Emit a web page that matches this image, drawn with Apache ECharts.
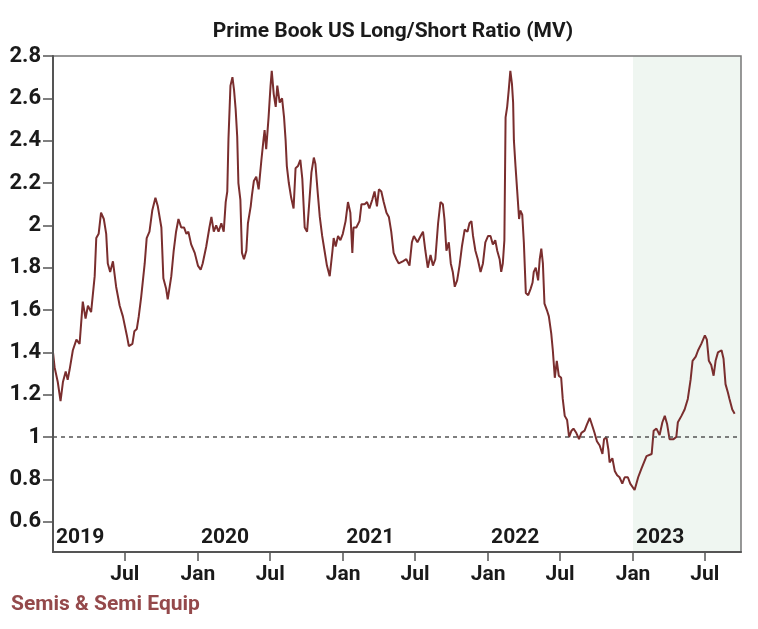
<!DOCTYPE html>
<html><head><meta charset="utf-8">
<script src="https://cdn.jsdelivr.net/npm/echarts@6/dist/echarts.min.js"></script>
<style>html,body{margin:0;padding:0;background:#fff}#c{width:758px;height:629px}</style>
</head><body><div id="c"></div>
<script>
const chartTitle = 'Prime Book US Long/Short Ratio (MV)';
const footnote = 'Semis & Semi Equip';
const yTicks = [0.6, 0.8, 1, 1.2, 1.4, 1.6, 1.8, 2, 2.2, 2.4, 2.6, 2.8];
const monthTicks = ['2019-07-01','2020-01-01','2020-07-01','2021-01-01','2021-07-01','2022-01-01','2022-07-01','2023-01-01','2023-07-01'];
const yearTicks = ['2019-01-01','2020-01-01','2021-01-01','2022-01-01','2023-01-01'];
const xMin = '2019-01-01', xMax = '2023-09-30';
const yMin = 0.457, yMax = 2.8;
const refLevel = 1;
const shadeStart = '2023-01-01';

const dates2019 = ['2019-01-01','2019-01-05','2019-01-13','2019-01-20','2019-01-26','2019-02-02','2019-02-07','2019-02-12','2019-02-20','2019-03-01','2019-03-09','2019-03-17','2019-03-24','2019-03-30','2019-04-07','2019-04-16','2019-04-20','2019-04-26','2019-05-02','2019-05-09','2019-05-15','2019-05-19','2019-05-25','2019-06-01','2019-06-09','2019-06-18','2019-06-26','2019-07-06','2019-07-11','2019-07-20','2019-07-25','2019-07-31','2019-08-05','2019-08-11','2019-08-20','2019-08-25','2019-09-01','2019-09-08','2019-09-16','2019-09-22','2019-10-01','2019-10-06','2019-10-13','2019-10-17','2019-10-26','2019-11-01','2019-11-07','2019-11-13','2019-11-20','2019-11-27','2019-12-03','2019-12-08','2019-12-15','2019-12-24'];
const values2019 = [1.40,1.33,1.26,1.17,1.26,1.31,1.27,1.32,1.41,1.46,1.44,1.64,1.56,1.62,1.59,1.76,1.94,1.96,2.06,2.03,1.96,1.82,1.78,1.83,1.71,1.62,1.57,1.48,1.43,1.44,1.50,1.51,1.57,1.66,1.82,1.94,1.97,2.07,2.13,2.09,1.99,1.75,1.70,1.65,1.76,1.88,1.97,2.03,1.99,1.99,1.96,1.97,1.91,1.87];

const dates2020 = ['2020-01-01','2020-01-08','2020-01-13','2020-01-22','2020-01-30','2020-02-04','2020-02-10','2020-02-16','2020-02-22','2020-02-29','2020-03-06','2020-03-11','2020-03-15','2020-03-18','2020-03-23','2020-03-28','2020-04-01','2020-04-05','2020-04-09','2020-04-12','2020-04-17','2020-04-21','2020-04-26','2020-05-02','2020-05-06','2020-05-13','2020-05-16','2020-05-21','2020-05-27','2020-06-02','2020-06-09','2020-06-14','2020-06-17','2020-06-21','2020-06-27','2020-07-02','2020-07-05','2020-07-10','2020-07-15','2020-07-19','2020-07-25','2020-07-31','2020-08-05','2020-08-09','2020-08-12','2020-08-17','2020-08-23','2020-08-29','2020-09-03','2020-09-09','2020-09-15','2020-09-20','2020-09-26','2020-10-02','2020-10-08','2020-10-13','2020-10-19','2020-10-23','2020-10-29','2020-11-03','2020-11-09','2020-11-15','2020-11-21','2020-11-28','2020-12-05','2020-12-08','2020-12-13','2020-12-19','2020-12-25','2020-12-31'];
const values2020 = [1.81,1.79,1.82,1.90,1.99,2.04,1.97,2.00,1.97,2.01,1.97,2.11,2.16,2.41,2.66,2.70,2.64,2.55,2.42,2.20,2.12,1.87,1.84,1.88,2.01,2.09,2.14,2.21,2.23,2.17,2.31,2.40,2.45,2.36,2.51,2.66,2.73,2.62,2.56,2.66,2.58,2.60,2.51,2.40,2.28,2.20,2.13,2.08,2.27,2.28,2.31,2.22,1.99,1.97,2.12,2.25,2.32,2.29,2.15,2.04,1.95,1.88,1.81,1.76,1.88,1.94,1.90,1.95,1.93,1.96];

const dates2021 = ['2021-01-07','2021-01-13','2021-01-19','2021-01-24','2021-01-27','2021-02-03','2021-02-11','2021-02-16','2021-02-24','2021-03-02','2021-03-08','2021-03-15','2021-03-21','2021-03-27','2021-04-01','2021-04-07','2021-04-13','2021-04-20','2021-04-26','2021-05-02','2021-05-08','2021-05-15','2021-05-21','2021-05-31','2021-06-09','2021-06-17','2021-06-23','2021-06-28','2021-07-07','2021-07-15','2021-07-21','2021-07-27','2021-08-02','2021-08-09','2021-08-15','2021-08-21','2021-08-28','2021-09-03','2021-09-09','2021-09-13','2021-09-18','2021-09-24','2021-09-29','2021-10-04','2021-10-09','2021-10-15','2021-10-21','2021-10-27','2021-11-03','2021-11-10','2021-11-15','2021-11-20','2021-11-24','2021-11-30','2021-12-06','2021-12-13','2021-12-19','2021-12-25'];
const values2021 = [2.02,2.11,2.06,1.87,1.99,1.99,2.02,2.10,2.10,2.11,2.08,2.12,2.16,2.09,2.17,2.16,2.11,2.06,2.04,1.97,1.87,1.84,1.82,1.83,1.84,1.81,1.92,1.95,1.92,1.95,1.97,1.88,1.80,1.86,1.81,1.84,2.01,2.11,2.10,2.03,1.88,1.92,1.82,1.78,1.71,1.74,1.81,1.90,1.98,1.97,2.01,2.02,1.95,1.88,1.84,1.78,1.82,1.92];

const dates2022 = ['2022-01-01','2022-01-07','2022-01-13','2022-01-19','2022-01-24','2022-01-30','2022-02-03','2022-02-07','2022-02-11','2022-02-14','2022-02-18','2022-02-22','2022-02-26','2022-03-02','2022-03-05','2022-03-07','2022-03-11','2022-03-15','2022-03-20','2022-03-23','2022-03-28','2022-04-01','2022-04-06','2022-04-12','2022-04-18','2022-04-23','2022-04-26','2022-05-01','2022-05-07','2022-05-11','2022-05-15','2022-05-19','2022-05-23','2022-05-29','2022-06-03','2022-06-09','2022-06-13','2022-06-18','2022-06-23','2022-06-28','2022-07-04','2022-07-08','2022-07-13','2022-07-19','2022-07-24','2022-07-30','2022-08-04','2022-08-11','2022-08-18','2022-08-24','2022-09-01','2022-09-07','2022-09-14','2022-09-21','2022-09-26','2022-10-02','2022-10-09','2022-10-16','2022-10-20','2022-10-26','2022-10-31','2022-11-03','2022-11-10','2022-11-16','2022-11-22','2022-11-28','2022-12-05','2022-12-11','2022-12-19','2022-12-25'];
const values2022 = [1.95,1.95,1.91,1.93,1.88,1.84,1.78,1.82,1.93,2.51,2.56,2.64,2.73,2.67,2.58,2.40,2.28,2.17,2.03,2.07,2.05,1.92,1.68,1.67,1.70,1.73,1.78,1.80,1.74,1.84,1.89,1.82,1.63,1.60,1.57,1.49,1.41,1.28,1.36,1.29,1.28,1.18,1.10,1.08,1.00,1.03,1.04,1.02,0.99,1.02,1.03,1.06,1.09,1.05,1.02,0.98,0.96,0.92,0.99,1.00,0.94,0.88,0.90,0.84,0.82,0.81,0.78,0.81,0.81,0.78];

const dates2023 = ['2023-01-05','2023-01-14','2023-01-22','2023-02-04','2023-02-17','2023-02-22','2023-03-01','2023-03-09','2023-03-16','2023-03-22','2023-03-28','2023-04-03','2023-04-13','2023-04-20','2023-04-24','2023-05-03','2023-05-11','2023-05-19','2023-05-26','2023-05-31','2023-06-08','2023-06-14','2023-06-22','2023-07-01','2023-07-06','2023-07-11','2023-07-17','2023-07-23','2023-07-28','2023-08-03','2023-08-12','2023-08-17','2023-08-22','2023-08-28','2023-09-01','2023-09-08','2023-09-14'];
const values2023 = [0.75,0.81,0.85,0.91,0.92,1.03,1.04,1.01,1.07,1.10,1.06,0.99,0.99,1.00,1.07,1.10,1.13,1.18,1.27,1.36,1.38,1.41,1.44,1.48,1.46,1.36,1.34,1.29,1.36,1.40,1.41,1.37,1.25,1.21,1.18,1.13,1.11];

const ts = s => Date.UTC(+s.slice(0, 4), +s.slice(5, 7) - 1, +s.slice(8, 10));
const allDates = [].concat(dates2019, dates2020, dates2021, dates2022, dates2023);
const allValues = [].concat(values2019, values2020, values2021, values2022, values2023);
const seriesData = allDates.map((d, i) => [ts(d), allValues[i]]);

const FONT = 'Roboto';
const lineColor = '#7a2e2e';

const chart = echarts.init(document.getElementById('c'), null, {renderer: 'canvas'});
chart.setOption({
  backgroundColor: '#ffffff',
  animation: false,
  title: {
    text: chartTitle, left: 388, top: 16, textAlign: 'center',
    textStyle: {fontFamily: FONT, fontWeight: 'bold', fontSize: 21, color: '#1a1a1a'}
  },
  graphic: [{
    type: 'text', left: 11, top: 594, z: 20,
    style: {text: footnote, fontFamily: FONT, fontWeight: 'bold', fontSize: 21, fill: '#94494b'}
  }],
  grid: {
    left: 53, top: 56, right: 17, bottom: 77, z: 5,
    show: true, borderColor: '#777', borderWidth: 1.5, backgroundColor: 'transparent',
    outerBoundsMode: 'none'
  },
  xAxis: [{
    type: 'value', min: ts(xMin), max: ts(xMax), z: 10,
    axisLine: {show: true, onZero: false, lineStyle: {color: '#555', width: 2}},
    axisTick: {show: true, length: 9, lineStyle: {color: '#555', width: 1.5}, customValues: monthTicks.map(ts)},
    axisLabel: {
      customValues: monthTicks.map(ts), margin: 12, hideOverlap: false,
      fontFamily: FONT, fontWeight: 'bold', fontSize: 21, color: '#1a1a1a',
      formatter: v => new Date(v).getUTCMonth() === 0 ? 'Jan' : 'Jul'
    },
    splitLine: {show: false}
  }, {
    type: 'value', min: ts(xMin), max: ts(xMax), position: 'bottom', z: 10,
    axisLine: {show: false}, axisTick: {show: false}, splitLine: {show: false},
    axisLabel: {
      inside: true, customValues: yearTicks.map(ts), margin: 4, align: 'left', padding: [0, 0, 0, 3],
      showMinLabel: true, showMaxLabel: true, hideOverlap: false,
      fontFamily: FONT, fontWeight: 'bold', fontSize: 21, color: '#1a1a1a',
      formatter: v => String(new Date(v).getUTCFullYear())
    }
  }],
  yAxis: {
    type: 'value', min: yMin, max: yMax, z: 10,
    axisLine: {show: true, lineStyle: {color: '#555', width: 2}},
    axisTick: {show: true, length: 10, lineStyle: {color: '#555', width: 1.5}, customValues: yTicks},
    axisLabel: {
      customValues: yTicks, margin: 12,
      fontFamily: FONT, fontWeight: 'bold', fontSize: 22, color: '#1a1a1a',
      formatter: v => String(+(+v).toFixed(1))
    },
    splitLine: {show: false}
  },
  series: [{
    type: 'line', data: [], z: 0, silent: true,
    markArea: {silent: true, itemStyle: {color: '#eff6f1'}, data: [[{xAxis: ts(shadeStart)}, {xAxis: ts(xMax)}]]}
  }, {
    type: 'line', data: [], z: 1, silent: true,
    markLine: {silent: true, symbol: 'none', label: {show: false},
      lineStyle: {type: [4, 4], color: '#555', width: 1.5}, data: [{yAxis: refLevel}]}
  }, {
    type: 'line', data: seriesData, z: 3, showSymbol: false, smooth: false,
    lineStyle: {color: lineColor, width: 2}
  }]
});
</script></body></html>
